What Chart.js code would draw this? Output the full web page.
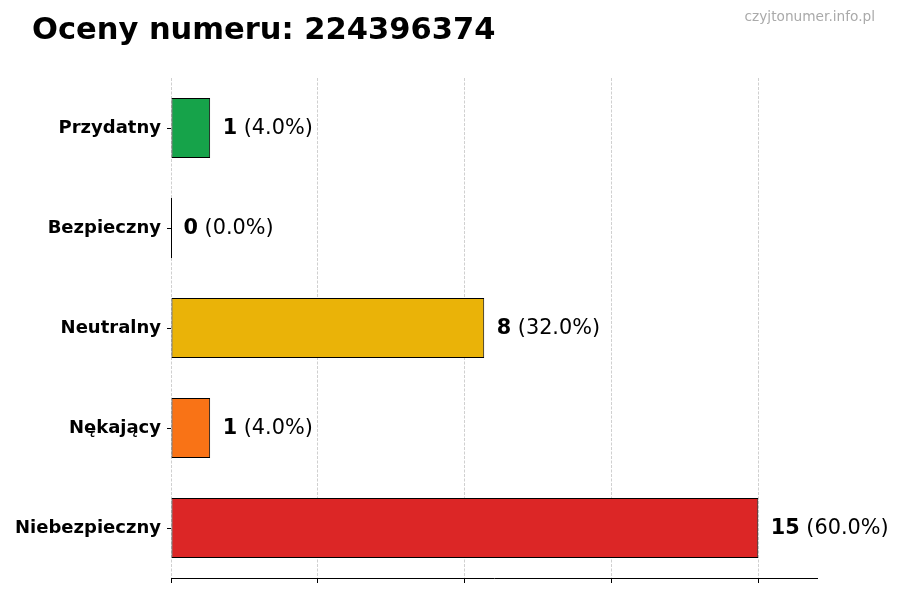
<!DOCTYPE html>
<html><head><meta charset="utf-8">
<script src="https://cdn.jsdelivr.net/npm/chart.js@4.4.1/dist/chart.umd.min.js"></script>
<style>html,body{margin:0;padding:0;background:#fff}#wrap{width:900px;height:600px}</style>
</head><body><div id="wrap"><canvas id="c" width="900" height="600"></canvas></div>
<script>
const titleText = "Oceny numeru: 224396374";
const watermark = "czyjtonumer.info.pl";
const categories = ["Przydatny", "Bezpieczny", "Neutralny", "Nękający", "Niebezpieczny"];
const counts = [1, 0, 8, 1, 15];
const percents = ["4.0%", "0.0%", "32.0%", "4.0%", "60.0%"];
const colors = ["#16a34a", "#9ca3af", "#eab308", "#f97316", "#dc2626"];
const xTicks = [0, 3.75, 7.5, 11.25, 15];
const xMax = 16.5;

const FONT = "'DejaVu Sans', sans-serif";

const overlay = {
  id: 'overlay',
  afterDraw(chart) {
    const ctx = chart.ctx;
    ctx.save();
    ctx.fillStyle = '#000';
    ctx.font = `bold 30.5px ${FONT}`;
    ctx.textBaseline = 'middle';
    ctx.textAlign = 'left';
    ctx.fillText(titleText, 32, 31);
    ctx.font = `13.7px ${FONT}`;
    ctx.fillStyle = '#aaaaaa';
    ctx.textAlign = 'right';
    ctx.fillText(watermark, 875, 17);
    const meta = chart.getDatasetMeta(0);
    meta.data.forEach((bar, i) => {
      const y = bar.y;
      if (counts[i] === 0) {
        ctx.strokeStyle = '#000';
        ctx.lineWidth = 1;
        ctx.beginPath();
        ctx.moveTo(Math.round(bar.base) + 0.5, y - bar.height / 2);
        ctx.lineTo(Math.round(bar.base) + 0.5, y + bar.height / 2);
        ctx.stroke();
      }
      let x = bar.x + 12.5;
      ctx.textAlign = 'left';
      ctx.textBaseline = 'middle';
      ctx.fillStyle = '#000';
      ctx.font = `bold 20.8px ${FONT}`;
      const n = String(counts[i]);
      ctx.fillText(n, x, y + 1);
      x += ctx.measureText(n).width;
      ctx.font = `20.8px ${FONT}`;
      ctx.fillText(' (' + percents[i] + ')', x, y + 1);
    });
    ctx.restore();
  }
};

new Chart(document.getElementById('c'), {
  type: 'bar',
  data: {
    labels: categories,
    datasets: [{
      data: counts,
      backgroundColor: colors,
      borderColor: '#000',
      borderWidth: 1,
      borderSkipped: false,
      barPercentage: 0.6,
      categoryPercentage: 1.0
    }]
  },
  options: {
    indexAxis: 'y',
    responsive: false,
    animation: false,
    devicePixelRatio: 1,
    layout: { padding: { top: 78, right: 83, bottom: 0, left: 0 } },
    plugins: { legend: { display: false }, tooltip: { enabled: false }, title: { display: false } },
    scales: {
      x: {
        min: 0, max: xMax,
        z: 1,
        afterBuildTicks: s => { s.ticks = xTicks.map(v => ({ value: v })); },
        afterFit: s => { s.height = 22; },
        ticks: { display: false },
        grid: {
          color: 'rgba(170,170,170,0.55)',
          lineWidth: 1,
          drawTicks: true,
          tickLength: 5,
          tickColor: '#000',
          tickBorderDash: [],
          tickWidth: 1
        },
        border: { display: true, color: '#000', width: 1, dash: [3, 1.5] }
      },
      y: {
        afterFit: s => { s.width = 171; },
        offset: true,
        ticks: { color: '#000', font: { family: FONT, size: 18, weight: 'bold' }, padding: 6 },
        grid: { drawOnChartArea: false, offset: false, drawTicks: true, tickLength: 4, tickColor: '#000' },
        border: { display: false }
      }
    }
  },
  plugins: [overlay]
});
</script></body></html>
